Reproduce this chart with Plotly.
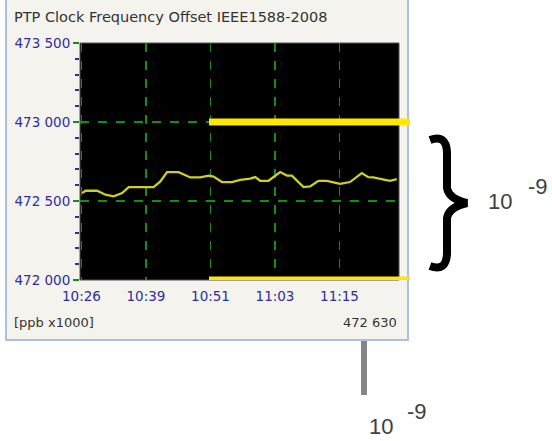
import plotly.graph_objects as go

# ---- data ----
minutes = [0.13, 0.76, 2.98, 4.55, 6.13, 7.72, 8.97, 13.71, 14.98, 16.25, 18.45, 20.67,
           22.57, 24.14, 25.09, 26.68, 28.58, 30.15, 32.05, 33.00, 33.94, 35.52, 37.74,
           39.01, 39.96, 42.16, 43.43, 45.0, 46.59, 49.11, 51.0, 53.23, 54.48, 55.43,
           57.65, 58.60, 59.87]
offset_ppb = [472550, 472565, 472565, 472540, 472529, 472550, 472588, 472588, 472624,
              472683, 472683, 472649, 472649, 472661, 472655, 472620, 472620, 472634,
              472641, 472651, 472628, 472628, 472683, 472661, 472660, 472588, 472592,
              472628, 472628, 472609, 472620, 472677, 472651, 472649, 472634, 472628,
              472639]
tick_minutes = [0, 12.25, 24.5, 36.75, 49]
tick_labels = ["10:26", "10:39", "10:51", "11:03", "11:15"]
y_ticks = [472000, 472500, 473000, 473500]
band_limits = [472000, 473000]
current_value = 472630
title_text = "PTP Clock Frequency Offset IEEE1588-2008"
unit_text = "[ppb x1000]"
exp_base = "10"
exp_power = "-9"

W, H = 552, 441
ML, MR, MT, MB = 80, 153, 43, 161
PW, PH = W - ML - MR, H - MT - MB


def px(x):
    return (x - ML) / PW


def py(y):
    return (H - MB - y) / PH


FONT = "DejaVu Sans"
BLUE = "#2e2e9e"
GREEN = "#138f13"
DARK = "#333333"

fig = go.Figure()
fig.add_trace(go.Scatter(x=minutes, y=offset_ppb, mode="lines",
                         line=dict(color="#cfcf22", width=2.3), hoverinfo="skip"))

shapes = []
# window panel
shapes.append(dict(type="rect", xref="paper", yref="paper", layer="below",
                   x0=px(6), x1=px(408), y0=py(340), y1=py(-5),
                   fillcolor="#f5f3ee", line=dict(color="#a9c1e6", width=2)))
# plot area background
shapes.append(dict(type="rect", xref="paper", yref="paper", layer="below",
                   x0=0, x1=1, y0=0, y1=1, fillcolor="black",
                   line=dict(color="#555555", width=1)))
# yellow limit bars
for v in band_limits:
    shapes.append(dict(type="line", xref="paper", yref="y", layer="above",
                       x0=px(209), x1=px(410), y0=v, y1=v,
                       line=dict(color="#ffe800", width=7)))
# gray pointer bar
shapes.append(dict(type="line", xref="paper", yref="paper", layer="above",
                   x0=px(364), x1=px(364), y0=py(341), y1=py(395),
                   line=dict(color="#858585", width=6)))
# curly brace
bp = [(430, 140), (446, 134), (447, 152), (447, 188), (449, 199), (467, 203),
      (449, 207), (447, 218), (447, 254), (446, 272), (430, 266)]
P = [(px(a), py(b)) for a, b in bp]
path = (f"M {P[0][0]},{P[0][1]} Q {P[1][0]},{P[1][1]} {P[2][0]},{P[2][1]} "
        f"L {P[3][0]},{P[3][1]} Q {P[4][0]},{P[4][1]} {P[5][0]},{P[5][1]} "
        f"Q {P[6][0]},{P[6][1]} {P[7][0]},{P[7][1]} "
        f"L {P[8][0]},{P[8][1]} Q {P[9][0]},{P[9][1]} {P[10][0]},{P[10][1]}")
shapes.append(dict(type="path", xref="paper", yref="paper", layer="above", path=path,
                   line=dict(color="black", width=8)))

annotations = [
    dict(text=title_text, x=px(12), y=py(17), xanchor="left", yanchor="middle",
         font=dict(family=FONT, size=14.5, color=DARK)),
    dict(text=unit_text, x=px(12), y=py(322), xanchor="left", yanchor="middle",
         font=dict(family=FONT, size=13, color=DARK)),
    dict(text=f"{current_value:,}".replace(",", " "), x=px(399), y=py(322),
         xanchor="right", yanchor="middle", font=dict(family=FONT, size=13, color=DARK)),
    dict(text=exp_base, x=px(381), y=py(426), xanchor="center", yanchor="middle",
         font=dict(family="Liberation Sans", size=22, color="#404040")),
    dict(text=exp_power, x=px(417), y=py(411), xanchor="center", yanchor="middle",
         font=dict(family="Liberation Sans", size=22, color="#404040")),
    dict(text=exp_base, x=px(500), y=py(201), xanchor="center", yanchor="middle",
         font=dict(family="Liberation Sans", size=22, color="#404040")),
    dict(text=exp_power, x=px(538), y=py(186), xanchor="center", yanchor="middle",
         font=dict(family="Liberation Sans", size=22, color="#404040")),
]
for a in annotations:
    a.update(xref="paper", yref="paper", showarrow=False)

fig.update_layout(
    width=W, height=H, margin=dict(l=ML, r=MR, t=MT, b=MB, pad=0),
    paper_bgcolor="white", plot_bgcolor="black", showlegend=False,
    separators=". ", shapes=shapes, annotations=annotations, hovermode=False,
    font=dict(family=FONT, size=13, color=BLUE),
)
fig.update_xaxes(range=[-0.28, 60.3], tickvals=tick_minutes, ticktext=tick_labels,
                 showgrid=True, gridcolor=GREEN, griddash="dash", gridwidth=1.5,
                 zeroline=False, ticks="", showline=False, ticklabelstandoff=6,
                 tickfont=dict(family=FONT, size=13.5, color=BLUE))
fig.update_yaxes(range=[472000, 473500], tickvals=y_ticks, tickformat=",d",
                 showgrid=True, gridcolor=GREEN, griddash="dash", gridwidth=1.5,
                 zeroline=False, ticks="outside", ticklen=6, tickcolor=GREEN,
                 tickwidth=2, showline=False,
                 minor=dict(dtick=100, ticks="outside", ticklen=4, tickcolor=BLUE,
                            tickwidth=2, showgrid=False),
                 tickfont=dict(family=FONT, size=13.5, color=BLUE))

fig.write_html("out.html", config={"displayModeBar": False, "staticPlot": True},
               post_script="document.body.style.margin='0px';document.body.style.padding='0px';")
